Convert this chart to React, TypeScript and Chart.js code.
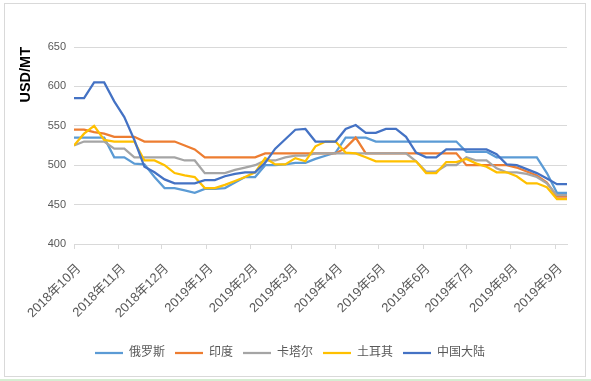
import React, { useEffect, useRef } from "react";
import { Chart, registerables } from "chart.js";

Chart.register(...registerables);

// ---- data ----
const seriesNames = ["俄罗斯", "印度", "卡塔尔", "土耳其", "中国大陆"];
const seriesColors = ["#5B9BD5", "#ED7D31", "#A5A5A5", "#FFC000", "#4472C4"];

// weekly prices, USD/MT, starting the first week of Oct 2018
const russia = [535, 535, 535, 535, 510, 510, 502, 501, 485, 471, 471, 468, 465, 470, 470, 471, 478, 485, 485, 500, 500, 501, 503, 503, 508, 512, 516, 535, 535, 535, 530, 530, 530, 530, 530, 530, 530, 530, 530, 517, 517, 517, 510, 510, 510, 510, 510, 490, 465, 465];
const india = [545, 545, 542, 540, 536, 536, 536, 530, 530, 530, 530, 525, 520, 510, 510, 510, 510, 510, 510, 515, 515, 515, 515, 515, 515, 515, 515, 522, 535, 515, 515, 515, 515, 515, 515, 515, 515, 515, 515, 500, 500, 500, 500, 500, 497, 492, 487, 478, 460, 460];
const qatar = [525, 530, 530, 530, 521, 521, 510, 510, 510, 510, 510, 506, 506, 490, 490, 490, 494, 497, 500, 506, 506, 510, 512, 512, 515, 515, 515, 515, 515, 515, 515, 515, 515, 515, 505, 492, 492, 500, 500, 510, 506, 506, 496, 491, 491, 489, 485, 477, 462, 462];
const turkey = [525, 540, 550, 532, 530, 530, 530, 506, 506, 500, 490, 487, 485, 471, 471, 475, 480, 485, 491, 509, 501, 501, 509, 505, 524, 530, 530, 516, 515, 510, 505, 505, 505, 505, 505, 490, 490, 504, 504, 508, 502, 498, 491, 491, 486, 477, 477, 472, 457, 457];
const china = [585, 585, 605, 605, 581, 561, 532, 498, 491, 482, 477, 477, 477, 481, 481, 486, 489, 491, 491, 503, 521, 533, 545, 546, 530, 530, 530, 546, 551, 541, 541, 546, 546, 536, 516, 510, 510, 520, 520, 520, 520, 520, 514, 501, 500, 495, 490, 483, 476, 476];

const monthLabels = ["2018年10月", "2018年11月", "2018年12月", "2019年1月", "2019年2月", "2019年3月", "2019年4月", "2019年5月", "2019年6月", "2019年7月", "2019年8月", "2019年9月"];
// day offset of each month start from 2018-10-01
const monthStartDays = [0, 31, 61, 92, 123, 151, 182, 212, 243, 273, 304, 335];
const DAYS_PER_WEEK = 7;
const yMin = 400;
const yMax = 650;
const yStep = 50;

const allSeries = [russia, india, qatar, turkey, china];

const FONT = "'Liberation Sans', 'Noto Sans CJK SC', sans-serif";
const LABEL_COLOR = "#595959";
const GRID_COLOR = "#D9D9D9";

export default function App() {
  const canvasRef = useRef<HTMLCanvasElement | null>(null);

  useEffect(() => {
    if (!canvasRef.current) return;
    const lastDay = (china.length - 1) * DAYS_PER_WEEK;
    const chart = new Chart(canvasRef.current, {
      type: "line",
      data: {
        datasets: allSeries.map((vals, i) => ({
          label: seriesNames[i],
          data: vals.map((v, j) => ({ x: j * DAYS_PER_WEEK, y: v })),
          borderColor: seriesColors[i],
          backgroundColor: seriesColors[i],
          borderWidth: 2.25,
          pointRadius: 0,
          tension: 0,
          fill: false,
          order: allSeries.length - 1 - i,
        })),
      },
      options: {
        animation: false,
        responsive: false,
        layout: { padding: { left: 13, right: 24, top: 47, bottom: 12 } },
        plugins: {
          legend: {
            position: "bottom",
            labels: {
              usePointStyle: true,
              pointStyle: "line",
              pointStyleWidth: 28,
              padding: 10,
              color: LABEL_COLOR,
              font: { size: 12, family: FONT },
              sort: (a: any, b: any) => a.datasetIndex - b.datasetIndex,
            },
          },
          tooltip: { enabled: false },
        },
        scales: {
          x: {
            type: "linear",
            min: 0,
            max: lastDay,
            afterBuildTicks: (scale: any) => {
              scale.ticks = monthStartDays.map((v) => ({ value: v }));
            },
            afterFit: (scale: any) => {
              scale.height = 93;
            },
            ticks: {
              autoSkip: false,
              minRotation: 45,
              maxRotation: 45,
              padding: 12,
              labelOffset: 5,
              color: LABEL_COLOR,
              font: { size: 13, family: FONT },
              callback: (_v: any, idx: number) => monthLabels[idx],
            },
            grid: {
              drawOnChartArea: false,
              drawTicks: true,
              tickLength: 5,
              color: GRID_COLOR,
            },
            border: { color: GRID_COLOR },
          },
          y: {
            min: yMin,
            max: yMax,
            afterFit: (scale: any) => {
              scale.width = 61;
            },
            ticks: {
              stepSize: yStep,
              padding: 8,
              color: LABEL_COLOR,
              font: { size: 11, family: FONT },
            },
            grid: { color: GRID_COLOR, drawTicks: false },
            border: { display: false },
            title: {
              display: true,
              text: "USD/MT",
              align: "end",
              color: "#000000",
              font: { size: 14.5, weight: "bold", family: FONT },
            },
          },
        },
      },
    } as any);
    return () => chart.destroy();
  }, []);

  return (
    <div style={{ position: "absolute", left: 0, top: 0, width: 591, height: 381, background: "#ffffff" }}>
      <canvas ref={canvasRef} width={591} height={381} style={{ position: "absolute", left: 0, top: 0, width: 591, height: 381 }} />
      <div
        style={{
          position: "absolute",
          left: 4,
          top: 3,
          width: 582,
          height: 374,
          boxSizing: "border-box",
          border: "1px solid #D9D9D9",
          pointerEvents: "none",
        }}
      />
      <div style={{ position: "absolute", left: 0, top: 379, width: 591, height: 2, background: "#D6EDD2" }} />
    </div>
  );
}
